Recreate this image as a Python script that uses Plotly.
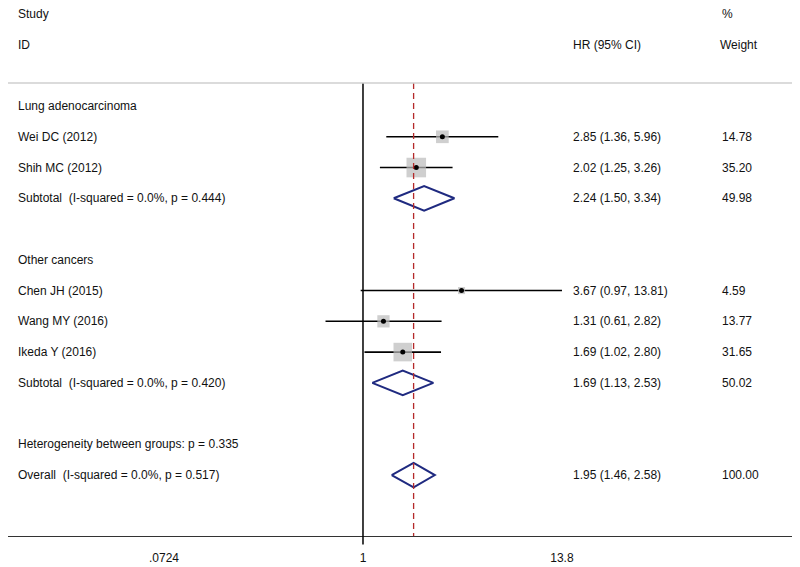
import math
import plotly.graph_objects as go

# ---------------- data ----------------
study_names = ["Wei DC (2012)", "Shih MC (2012)", "Chen JH (2015)", "Wang MY (2016)", "Ikeda Y (2016)"]
study_rows = [1, 2, 6, 7, 8]
study_hr = [2.85, 2.02, 3.67, 1.31, 1.69]
study_lo = [1.36, 1.25, 0.97, 0.61, 1.02]
study_hi = [5.96, 3.26, 13.81, 2.82, 2.80]
study_weight = [14.78, 35.20, 4.59, 13.77, 31.65]

pooled_names = ["Subtotal\u00a0 (I-squared = 0.0%, p = 0.444)",
                "Subtotal\u00a0 (I-squared = 0.0%, p = 0.420)",
                "Overall\u00a0 (I-squared = 0.0%, p = 0.517)"]
pooled_rows = [3, 9, 12]
pooled_hr = [2.24, 1.69, 1.95]
pooled_lo = [1.50, 1.13, 1.46]
pooled_hi = [3.34, 2.53, 2.58]
pooled_weight = [49.98, 50.02, 100.00]

group_labels = ["Lung adenocarcinoma", "Other cancers", "Heterogeneity between groups: p = 0.335"]
group_rows = [0, 5, 11]

tick_vals = [0.0724, 1, 13.8]
tick_text = [".0724", "1", "13.8"]
overall_hr = 1.95

# ---------------- styling ----------------
FONT = "Liberation Sans, Arial, sans-serif"
TXT = "#111111"
OFF = 8                      # page body margin in the browser
W, H = 800 - OFF, 567 - OFF
ML, MB = 0, 31
X_RANGE = [-2.034, 2.504]    # log10
Y_RANGE = [13.98, -3.187]    # rows (reversed)

def px(xref_px):
    return (xref_px - OFF - ML) / (W - ML)

COL_STUDY = px(16)
COL_HR = px(571)
COL_WT = px(720)

fig = go.Figure()

# CI lines
for n, r, lo, hi in zip(study_names, study_rows, study_lo, study_hi):
    fig.add_trace(go.Scatter(x=[lo, hi], y=[r, r], mode="lines",
                             line=dict(color="black", width=1.6),
                             showlegend=False, hoverinfo="skip"))

# weight boxes
fig.add_trace(go.Scatter(x=study_hr, y=study_rows, mode="markers",
                         marker=dict(symbol="square", color="#bababa",
                                     size=[3.3 * math.sqrt(w) for w in study_weight],
                                     line=dict(width=0)),
                         showlegend=False, hoverinfo="skip"))
# point estimates
fig.add_trace(go.Scatter(x=study_hr, y=study_rows, mode="markers",
                         marker=dict(symbol="circle", color="black", size=5),
                         showlegend=False, hoverinfo="skip"))

# diamonds
h = 0.40
for r, est, lo, hi in zip(pooled_rows, pooled_hr, pooled_lo, pooled_hi):
    fig.add_trace(go.Scatter(x=[lo, est, hi, est, lo], y=[r, r - h, r, r + h, r],
                             mode="lines", line=dict(color="#1f2a80", width=2),
                             showlegend=False, hoverinfo="skip"))

# reference lines
fig.add_shape(type="line", xref="x", yref="y", x0=1, x1=1, y0=-0.75, y1=Y_RANGE[0],
              line=dict(color="black", width=1.5))
fig.add_shape(type="line", xref="x", yref="paper", x0=1, x1=1, y0=-0.016, y1=0,
              line=dict(color="black", width=1.5))
fig.add_shape(type="line", xref="x", yref="y", x0=overall_hr, x1=overall_hr, y0=-0.75, y1=Y_RANGE[0],
              line=dict(color="#b52a2a", width=1.3, dash="6px,4px"))
fig.add_shape(type="line", xref="paper", yref="y", x0=px(5), x1=1, y0=-0.75, y1=-0.75,
              line=dict(color="#cfcfcf", width=1.5))

# text
ann = []
def txt(x, y, s):
    ann.append(dict(x=x, y=y, xref="paper", yref="y", text=s, showarrow=False,
                    xanchor="left", yanchor="middle", font=dict(family=FONT, size=12, color=TXT)))

txt(COL_STUDY, -3, "Study")
txt(COL_STUDY, -2, "ID")
txt(COL_HR, -2, "HR (95% CI)")
txt(COL_WT, -3, "%")
txt(px(718), -2, "Weight")
for s, r in zip(group_labels, group_rows):
    txt(COL_STUDY, r, s)
for s, r, e, lo, hi, w in zip(study_names, study_rows, study_hr, study_lo, study_hi, study_weight):
    txt(COL_STUDY, r, s)
    txt(COL_HR, r, f"{e:.2f} ({lo:.2f}, {hi:.2f})")
    txt(COL_WT, r, f"{w:.2f}")
for s, r, e, lo, hi, w in zip(pooled_names, pooled_rows, pooled_hr, pooled_lo, pooled_hi, pooled_weight):
    txt(COL_STUDY, r, s)
    txt(COL_HR, r, f"{e:.2f} ({lo:.2f}, {hi:.2f})")
    txt(COL_WT, r, f"{w:.2f}")

fig.update_layout(
    width=W, height=H, margin=dict(l=ML, r=0, t=0, b=MB),
    paper_bgcolor="white", plot_bgcolor="white",
    annotations=ann,
    xaxis=dict(type="log", range=X_RANGE, tickvals=tick_vals, ticktext=tick_text,
               showline=True, linecolor="#333333", linewidth=1.2, showgrid=False, zeroline=False,
               ticks="outside", ticklen=10, tickcolor="rgba(0,0,0,0)",
               tickfont=dict(family=FONT, size=12, color=TXT)),
    yaxis=dict(range=Y_RANGE, visible=False, showgrid=False, zeroline=False),
)

fig.write_html("out.html")
